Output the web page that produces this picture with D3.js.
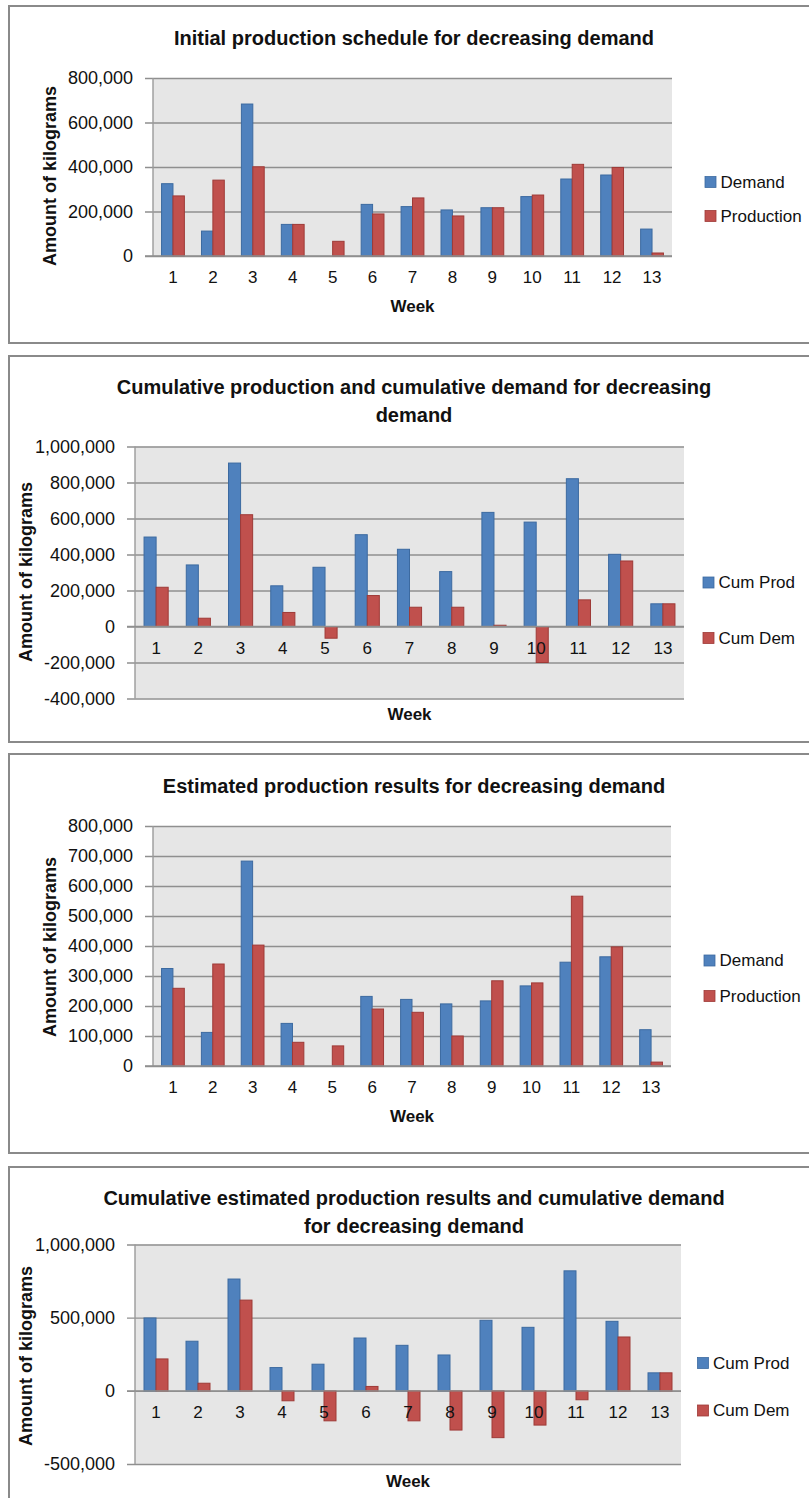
<!DOCTYPE html>
<html>
<head>
<meta charset="utf-8">
<script src="https://cdn.jsdelivr.net/npm/d3@7"></script>
<style>
  html, body { margin: 0; padding: 0; background: #fff; }
  svg text { font-family: "Liberation Sans", Arial, sans-serif; fill: #111; }
</style>
</head>
<body>
<svg id="page" width="809" height="1498"></svg>
<script>
// Week numbers shared by every chart
const weeks = ["1", "2", "3", "4", "5", "6", "7", "8", "9", "10", "11", "12", "13"];

// Weekly demand (kg)
const demand = [325000, 112000, 683000, 142000, 0, 232000, 222000, 207000, 217000, 267000, 346000, 364000, 121000];
// Initial production schedule (kg)
const initialProduction = [270000, 341000, 401000, 142000, 66000, 189000, 261000, 180000, 217000, 274000, 412000, 398000, 13500];
// Cumulative figures for the initial schedule (kg)
const cumProdInitial = [497000, 342000, 908000, 226000, 329000, 510000, 429000, 305000, 634000, 580000, 821000, 401000, 126000];
const cumDemInitial = [218000, 46000, 621000, 78000, -65000, 172000, 107000, 107000, 7000, -200000, 148000, 364000, 126000];
// Estimated production results (kg)
const estimatedProduction = [259000, 340000, 403000, 79000, 67000, 190000, 179000, 100000, 284000, 277000, 566000, 397000, 13000];
// Cumulative figures for the estimated results (kg)
const cumProdEstimated = [498000, 339000, 764000, 159000, 182000, 361000, 311000, 245000, 482000, 434000, 820000, 475000, 123000];
const cumDemEstimated = [218000, 52000, 620000, -68000, -205000, 30000, -205000, -268000, -320000, -234000, -61000, 368000, 123000];

// Value-axis tick values
const ticksInitial = [0, 200000, 400000, 600000, 800000];
const ticksCumInitial = [-400000, -200000, 0, 200000, 400000, 600000, 800000, 1000000];
const ticksEstimated = [0, 100000, 200000, 300000, 400000, 500000, 600000, 700000, 800000];
const ticksCumEstimated = [-500000, 0, 500000, 1000000];

// Titles and legend names
const titleInitial = ["Initial production schedule for decreasing demand"];
const titleCumInitial = ["Cumulative production and cumulative demand for decreasing", "demand"];
const titleEstimated = ["Estimated production results for decreasing demand"];
const titleCumEstimated = ["Cumulative estimated production results and cumulative demand", "for decreasing demand"];
const namesDemand = ["Demand", "Production"];
const namesCum = ["Cum Prod", "Cum Dem"];

const colors = [
  { fill: "#4f81bd", stroke: "#3c6aa0" },
  { fill: "#c0504d", stroke: "#9e3a37" }
];

const fmt = d3.formatLocale({ decimal: ".", thousands: ",", grouping: [3], currency: ["", ""], minus: "-" }).format(",");

const svg = d3.select("#page");

const charts = [
  {
    box: [6, 343], title: titleInitial, titleY: [45],
    plot: { l: 153, r: 672, t: 78, b: 256 }, domain: [0, 800000], ticks: ticksInitial,
    series: [demand, initialProduction], names: namesDemand,
    yTitle: { x: 56, y: 176 }, weekY: 312,
    legend: { x: 705, y: [176.5, 210.5] }
  },
  {
    box: [356, 742], title: titleCumInitial, titleY: [394, 422],
    plot: { l: 135, r: 684, t: 446.5, b: 698.5 }, domain: [-400000, 1000000], ticks: ticksCumInitial,
    series: [cumProdInitial, cumDemInitial], names: namesCum,
    yTitle: { x: 32, y: 572 }, weekY: 720,
    legend: { x: 703, y: [577, 632.5] }
  },
  {
    box: [754, 1153], title: titleEstimated, titleY: [793],
    plot: { l: 153, r: 671, t: 826, b: 1066 }, domain: [0, 800000], ticks: ticksEstimated,
    series: [demand, estimatedProduction], names: namesDemand,
    yTitle: { x: 56, y: 947 }, weekY: 1121.5,
    legend: { x: 704, y: [955, 990.5] }
  },
  {
    box: [1167, 1510], title: titleCumEstimated, titleY: [1205, 1233],
    plot: { l: 135, r: 681, t: 1244.5, b: 1464 }, domain: [-500000, 1000000], ticks: ticksCumEstimated,
    series: [cumProdEstimated, cumDemEstimated], names: namesCum,
    yTitle: { x: 32, y: 1356 }, weekY: 1486.5,
    legend: { x: 697.5, y: [1357.5, 1405] }
  }
];

charts.forEach(drawChart);

function drawChart(c) {
  const g = svg.append("g");
  const p = c.plot;

  // Chart frame
  g.append("rect")
    .attr("x", 9).attr("y", c.box[0])
    .attr("width", 830).attr("height", c.box[1] - c.box[0])
    .attr("fill", "none").attr("stroke", "#8a8a8a").attr("stroke-width", 2);

  // Title
  g.selectAll("text.title").data(c.title).join("text")
    .attr("class", "title")
    .attr("x", 414).attr("y", (d, i) => c.titleY[i])
    .attr("text-anchor", "middle")
    .attr("font-size", 20).attr("font-weight", "bold")
    .text(d => d);

  const x0 = d3.scaleBand().domain(weeks).range([p.l, p.r]).paddingInner(0).paddingOuter(0);
  const barW = x0.bandwidth() / 3.5;
  const x1 = d3.scaleBand().domain([0, 1]).range([0, barW * 2]);
  const y = d3.scaleLinear().domain(c.domain).range([p.b, p.t]);

  // Plot background
  g.append("rect")
    .attr("x", p.l).attr("y", p.t)
    .attr("width", p.r - p.l).attr("height", p.b - p.t)
    .attr("fill", "#e6e6e6");

  // Value axis with gridlines (ticks extend left of the plot)
  const yAxis = d3.axisLeft(y).tickValues(c.ticks).tickFormat(fmt)
    .tickSize(-(p.r - p.l + 8)).tickPadding(12);
  const ya = g.append("g").attr("transform", `translate(${p.l - 8},0)`).call(yAxis);
  ya.select(".domain").remove();
  ya.selectAll(".tick line").attr("stroke", "#8f8f8f").attr("stroke-width", 1.4);
  ya.selectAll(".tick text").attr("font-size", 18).attr("fill", "#111")
    .attr("font-family", "'Liberation Sans', Arial, sans-serif");

  // Left axis line
  g.append("line")
    .attr("x1", p.l).attr("x2", p.l).attr("y1", p.t).attr("y2", p.b)
    .attr("stroke", "#9a9a9a").attr("stroke-width", 1.4);

  // Bars
  c.series.forEach((vals, si) => {
    g.append("g").selectAll("rect").data(vals).join("rect")
      .attr("x", (d, i) => x0(weeks[i]) + (x0.bandwidth() - barW * 2) / 2 + x1(si))
      .attr("y", d => y(Math.max(0, d)))
      .attr("width", barW)
      .attr("height", d => Math.abs(y(d) - y(0)))
      .attr("fill", colors[si].fill)
      .attr("stroke", colors[si].stroke).attr("stroke-width", 1);
  });

  // Category axis on the zero line
  g.append("line")
    .attr("x1", p.l - 8).attr("x2", p.r).attr("y1", y(0)).attr("y2", y(0))
    .attr("stroke", "#8f8f8f").attr("stroke-width", 1.4);
  g.selectAll("text.week").data(weeks).join("text")
    .attr("class", "week")
    .attr("x", d => x0(d) + x0.bandwidth() / 2)
    .attr("y", y(0) + 27)
    .attr("text-anchor", "middle").attr("font-size", 17)
    .text(d => d);

  // Axis titles
  g.append("text")
    .attr("x", (p.l + p.r) / 2).attr("y", c.weekY)
    .attr("text-anchor", "middle").attr("font-size", 17).attr("font-weight", "bold")
    .text("Week");
  g.append("text")
    .attr("transform", `translate(${c.yTitle.x},${c.yTitle.y}) rotate(-90)`)
    .attr("text-anchor", "middle").attr("font-size", 18).attr("font-weight", "bold")
    .text("Amount of kilograms");

  // Legend
  const lg = g.append("g");
  c.names.forEach((name, i) => {
    lg.append("rect")
      .attr("x", c.legend.x).attr("y", c.legend.y[i])
      .attr("width", 11).attr("height", 11)
      .attr("fill", colors[i].fill).attr("stroke", colors[i].stroke).attr("stroke-width", 0.8);
    lg.append("text")
      .attr("x", c.legend.x + 15.5).attr("y", c.legend.y[i] + 11)
      .attr("font-size", 17)
      .text(name);
  });
}
</script>
</body>
</html>
